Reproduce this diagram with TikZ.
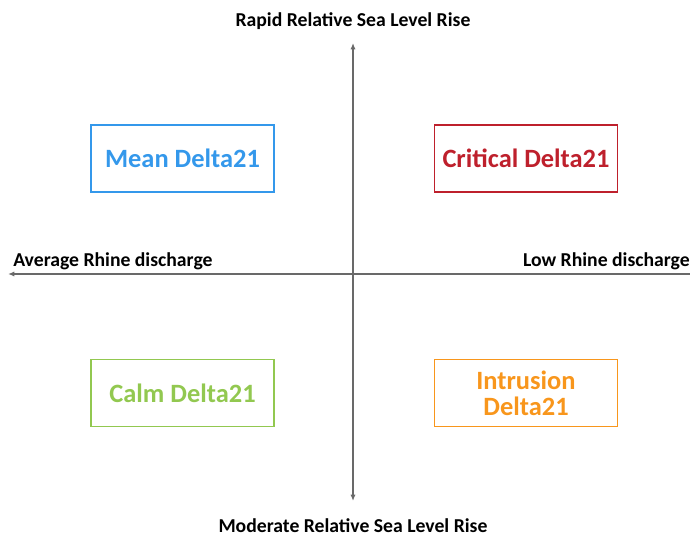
\documentclass[tikz,border=0pt]{standalone}
\usepackage{fontspec}
\setmainfont{Carlito}
\usepackage{xcolor}
\definecolor{meanblue}{RGB}{52,152,235}
\definecolor{critred}{RGB}{190,32,44}
\definecolor{calmgreen}{RGB}{146,200,80}
\definecolor{intorange}{RGB}{248,150,28}
\definecolor{axisgray}{RGB}{105,105,105}
\usetikzlibrary{arrows.meta}

\begin{document}
\begin{tikzpicture}[
  x=0.025cm,y=-0.025cm,
  font=\bfseries,
  scen/.style={draw,line width=1.3pt,minimum width=4.575cm,minimum height=1.675cm,
    align=center,font=\fontsize{18.8}{18.5}\selectfont\bfseries,inner sep=2pt},
  lbl/.style={font=\fontsize{14}{16}\selectfont\bfseries,inner sep=0pt},
  ax/.style={-{Latex[length=1.6mm,width=1.3mm]},axisgray,line width=1pt}
]
\useasboundingbox (0,0) rectangle (690,538);
% axes
\coordinate (top) at (353,43);
\coordinate (bot) at (353,501);
\coordinate (lft) at (8,274);
\coordinate (rgt) at (690,274);
\draw[ax,{Latex[length=1.6mm,width=1.3mm]}-{Latex[length=1.6mm,width=1.3mm]}] (bot) -- (top);
\draw[ax] (rgt) -- (lft);
% axis labels
\node[lbl] (rapid) at (353,21) {Rapid Relative Sea Level Rise};
\node[lbl] (moder) at (353,526) {Moderate Relative Sea Level Rise};
\node[lbl,anchor=south west] (avg) at (13,270) {Average Rhine discharge};
\node[lbl,anchor=south east] (low) at (690,270) {Low Rhine discharge};
% scenarios
\node[scen,draw=meanblue,text=meanblue] (mean) at (182.5,158.5) {Mean Delta21};
\node[scen,draw=critred,text=critred] (crit) at (526,158.5) {Critical Delta21};
\node[scen,draw=calmgreen,text=calmgreen] (calm) at (182.5,393) {Calm Delta21};
\node[scen,draw=intorange,text=intorange] (intr) at (526,393) {Intrusion\\Delta21};
\end{tikzpicture}
\end{document}
